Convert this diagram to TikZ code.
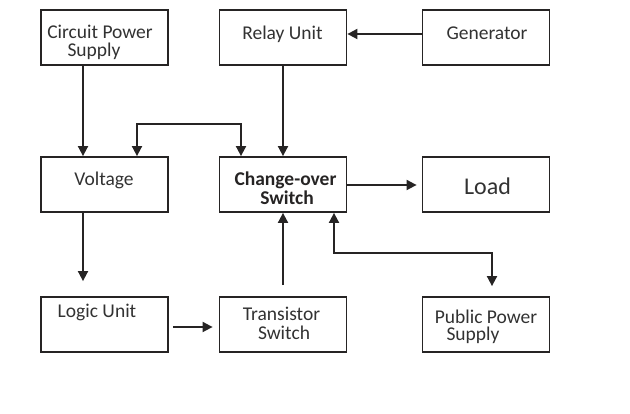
\documentclass[tikz,border=0pt]{standalone}
\usepackage{fontspec}
\setmainfont{Carlito}
\usetikzlibrary{arrows.meta}
\definecolor{linec}{RGB}{38,36,36}
\definecolor{textc}{RGB}{50,50,50}
\begin{document}
\begin{tikzpicture}[x=1pt,y=-1pt,
  box/.style={draw=linec, line width=1.8pt, minimum width=127pt, minimum height=55pt, inner sep=0pt},
  txt/.style={anchor=base, inner sep=0pt, text=textc, font=\fontsize{19.5}{17}\selectfont},
  btxt/.style={txt, text=linec, font=\fontsize{19.5}{17}\selectfont\bfseries},
  arr/.style={draw=linec, line width=1.8pt, -{Triangle[length=10pt,width=10pt]}},
  darr/.style={draw=linec, line width=1.8pt, {Triangle[length=10pt,width=10pt]}-{Triangle[length=10pt,width=10pt]}}]
\useasboundingbox (0,0) rectangle (630,414);
% boxes
\node[box] (cps)   at (104.5,37.5) {};
\node[box] (relay) at (283,37.5) {};
\node[box] (gen)   at (486,37.5) {};
\node[box] (volt)  at (104.5,184.5) {};
\node[box] (cos)   at (283,184.5) {};
\node[box] (load)  at (486,184.5) {};
\node[box] (logic) at (104.5,324.5) {};
\node[box] (trans) at (283,324.5) {};
\node[box] (pps)   at (486,324.5) {};
% texts
\node[txt] (t1a) at (100,38.5) {Circuit Power};
\node[txt] (t1b) at (94,57) {Supply};
\node[txt] (t2) at (282.5,40) {Relay Unit};
\node[txt] (t3) at (487,40) {Generator};
\node[txt] (t4) at (104,186) {Voltage};
\node[btxt] (t5a) at (285.5,186) {Change-over};
\node[btxt] (t5b) at (287,205) {Switch};
\node[txt, font=\fontsize{24}{24}\selectfont] (t6) at (487.5,195) {Load};
\node[txt] (t7) at (97,318) {Logic Unit};
\node[txt] (t8a) at (281.5,321) {Transistor};
\node[txt] (t8b) at (284,340) {Switch};
\node[txt] (t9a) at (486,323.5) {Public Power};
\node[txt] (t9b) at (473,341) {Supply};
% connectors
\draw[arr] ([xshift=-21.5]cps.south) -- ([xshift=-21.5]volt.north);
\draw[arr] (relay.south) -- (cos.north);
\draw[arr] ([yshift=3.5]gen.west) -- ([yshift=3.5]relay.east);
\draw[darr] ([xshift=32.5]volt.north) -- ++(0,-32) -| ([xshift=-42]cos.north);
\draw[arr, shorten >=5pt] ([yshift=-0.5]cos.east) -- ([yshift=-0.5]load.west);
\draw[arr, shorten >=15pt] ([xshift=-21.5]volt.south) -- ([xshift=-21.5]logic.north);
\draw[arr, shorten <=4pt, shorten >=6pt] ([yshift=-2.5]logic.east) -- ([yshift=-2.5]trans.west);
\draw[arr, shorten <=11pt] (trans.north) -- (cos.south);
\draw[darr, shorten >=10pt] ([xshift=51]cos.south) -- ++(0,40) -| ([xshift=6]pps.north);
\end{tikzpicture}
\end{document}
